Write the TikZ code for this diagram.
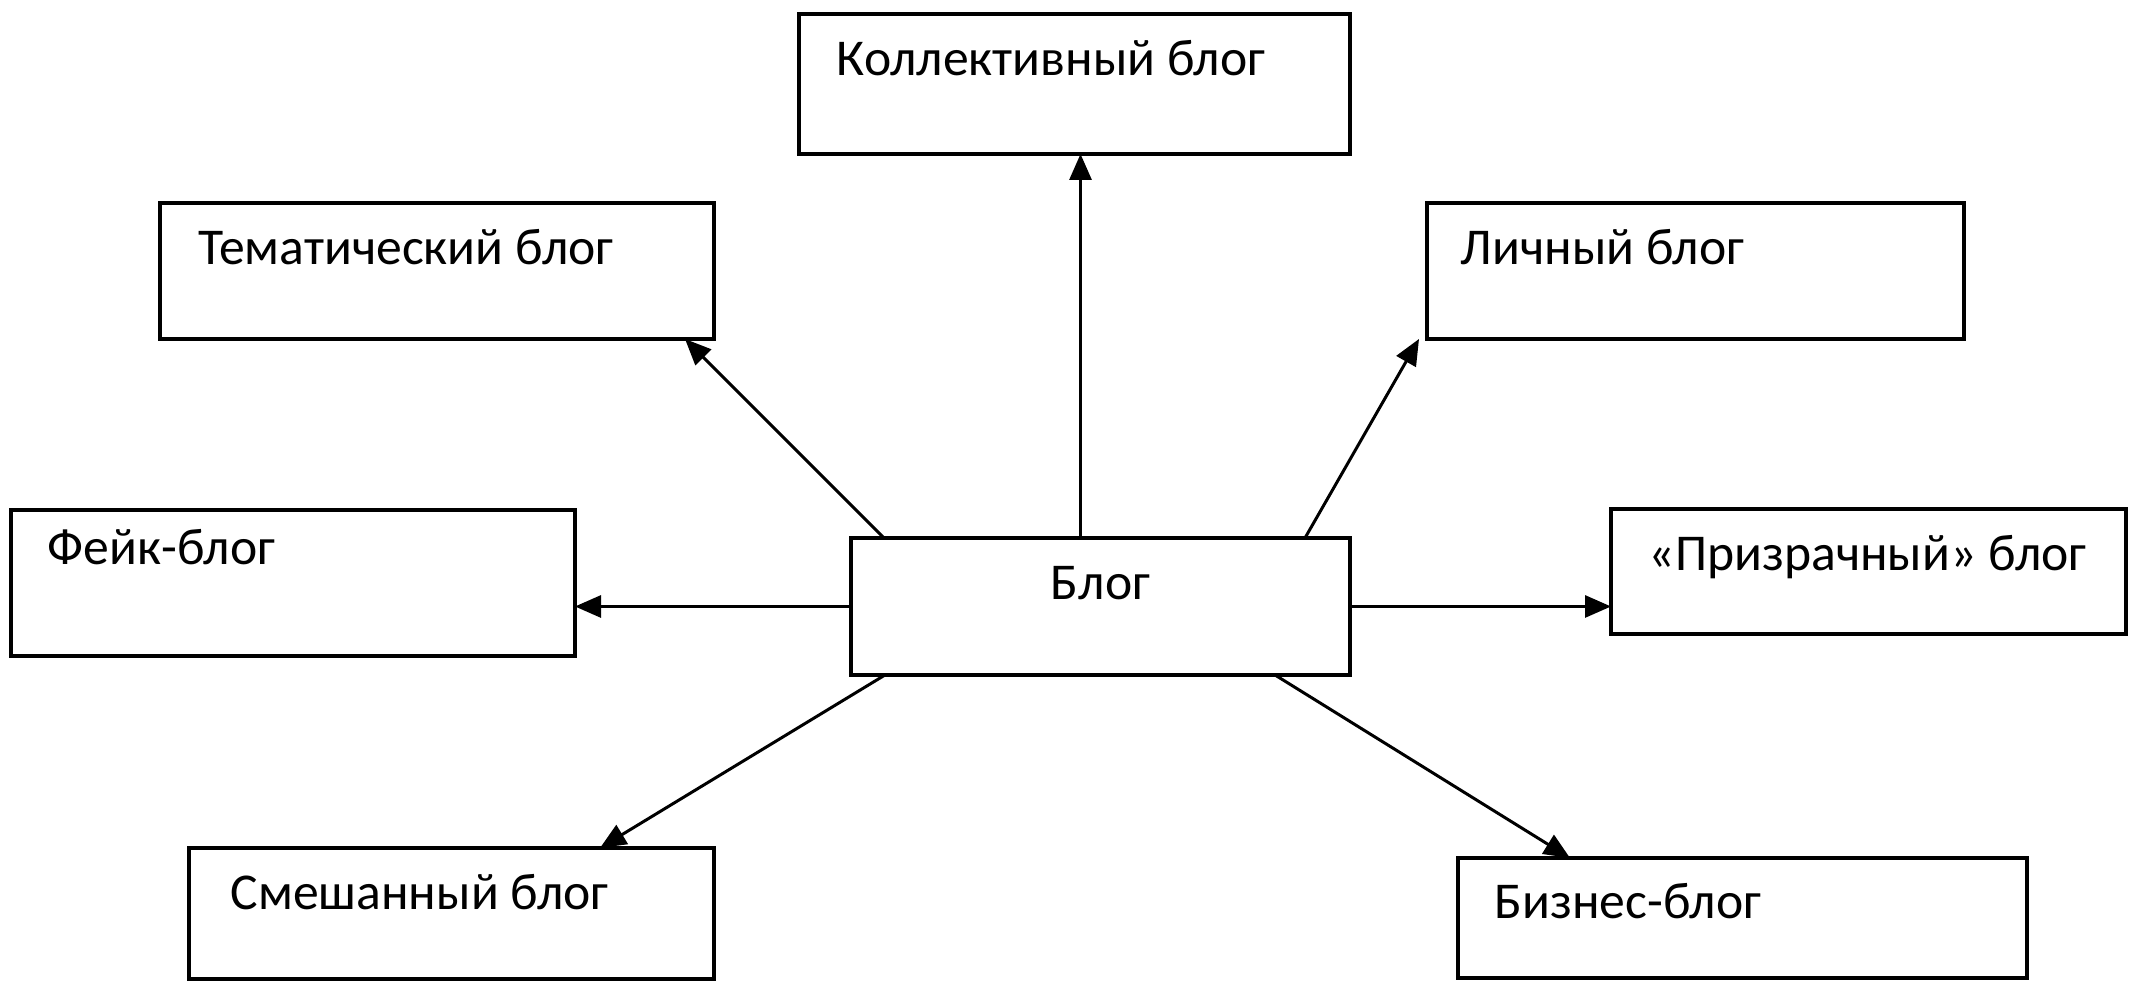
\documentclass[tikz,border=0pt]{standalone}
\usepackage{fontspec}
\setmainfont{Carlito}
\usetikzlibrary{arrows.meta}
\begin{document}
\begin{tikzpicture}
        \tikzstyle{blogbox}=[rectangle,draw=black,line width=1.3pt,inner sep=0pt,outer sep=0pt]
        \tikzstyle{lbl}=[anchor=base west,inner sep=0pt,font=\fontsize{14.7}{17}\selectfont]
        \tikzstyle{edge}=[draw,line width=0.85pt,-{Triangle[length=0.26cm,width=0.22cm]}]
        \useasboundingbox (0,0) rectangle (21.34,10);
        \begin{scope}
           % boxes
           \node [blogbox,minimum width=4.99cm,minimum height=1.37cm] (blog) at (11.005,3.935) {};
           \node [blogbox,minimum width=5.51cm,minimum height=1.40cm] (kollekt) at (10.745,9.16) {};
           \node [blogbox,minimum width=5.54cm,minimum height=1.36cm] (tema) at (4.37,7.29) {};
           \node [blogbox,minimum width=5.37cm,minimum height=1.36cm] (lichn) at (16.955,7.29) {};
           \node [blogbox,minimum width=5.64cm,minimum height=1.46cm] (feik) at (2.93,4.17) {};
           \node [blogbox,minimum width=5.15cm,minimum height=1.25cm] (prizr) at (18.685,4.285) {};
           \node [blogbox,minimum width=5.25cm,minimum height=1.31cm] (smesh) at (4.515,0.865) {};
           \node [blogbox,minimum width=5.69cm,minimum height=1.20cm] (biznes) at (17.425,0.82) {};
           % texts
           \node [lbl,anchor=base] (blogtxt) at ([yshift=-0.62cm]blog.north) {Блог};
           \node [lbl] (kollekttxt) at ([shift={(0.37,-0.62)}]kollekt.north west) {Коллективный блог};
           \node [lbl] (tematxt) at ([shift={(0.38,-0.62)}]tema.north west) {Тематический блог};
           \node [lbl] (lichntxt) at ([shift={(0.33,-0.62)}]lichn.north west) {Личный блог};
           \node [lbl] (feiktxt) at ([shift={(0.36,-0.55)}]feik.north west) {Фейк-блог};
           \node [lbl] (prizrtxt) at ([shift={(0.37,-0.62)}]prizr.north west) {«Призрачный» блог};
           \node [lbl] (smeshtxt) at ([shift={(0.41,-0.62)}]smesh.north west) {Смешанный блог};
           \node [lbl] (biznestxt) at ([shift={(0.36,-0.61)}]biznes.north west) {Бизнес-блог};
           % arrows
           \path[edge] ([xshift=-0.2cm]blog.north) -- ([xshift=-0.2cm]blog.north |- kollekt.south);
           \path[edge] ([xshift=0.33cm]blog.north west) -- ([xshift=-0.29cm]tema.south east);
           \path[edge] ([xshift=-0.45cm]blog.north east) -- ([xshift=-0.08cm]lichn.south west);
           \path[edge] (blog.west) -- (feik.east |- blog.west);
           \path[edge] (blog.east) -- (prizr.west |- blog.east);
           \path[edge] ([xshift=0.34cm]blog.south west) -- ([xshift=4.11cm]smesh.north west);
           \path[edge] ([xshift=-0.75cm]blog.south east) -- ([xshift=1.12cm]biznes.north west);
        \end{scope}
      \end{tikzpicture}
\end{document}
